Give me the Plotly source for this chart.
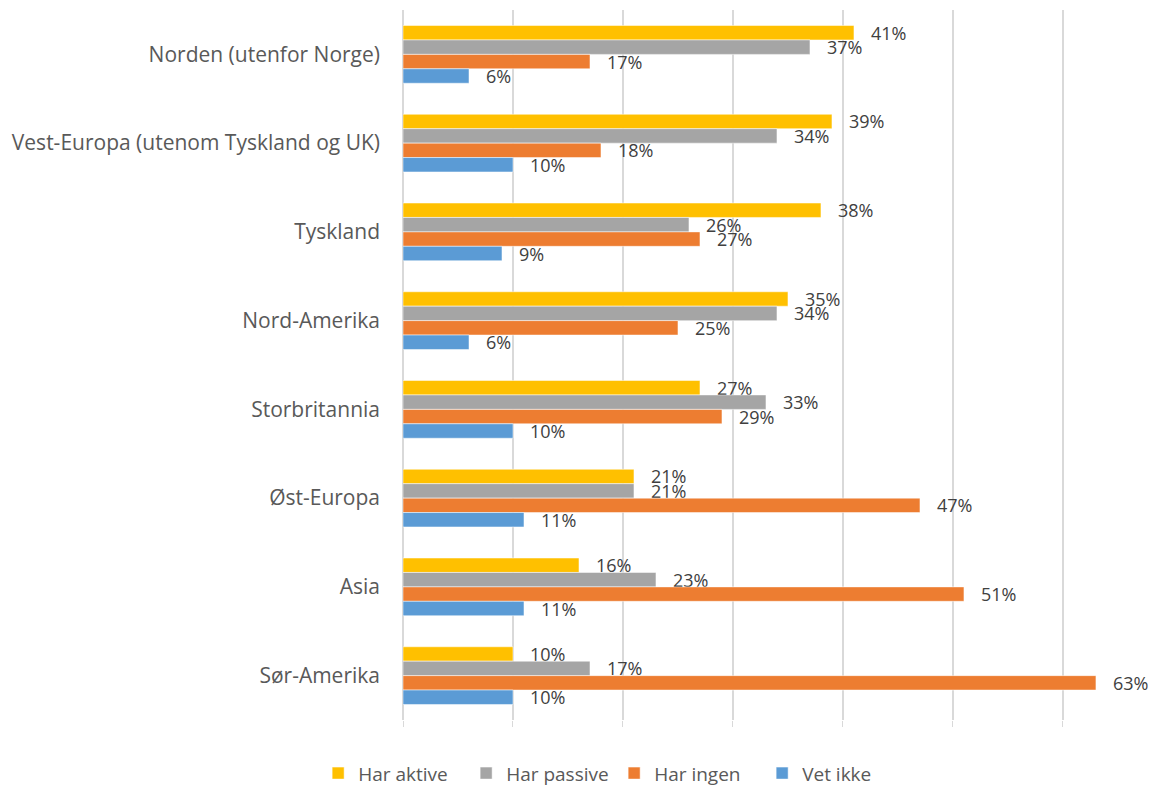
import plotly.graph_objects as go

categories = ["Norden (utenfor Norge)", "Vest-Europa (utenom Tyskland og UK)", "Tyskland",
              "Nord-Amerika", "Storbritannia", "Øst-Europa", "Asia", "Sør-Amerika"]
series_names = ["Har aktive", "Har passive", "Har ingen", "Vet ikke"]
har_aktive = [0.41, 0.39, 0.38, 0.35, 0.27, 0.21, 0.16, 0.10]
har_passive = [0.37, 0.34, 0.26, 0.34, 0.33, 0.21, 0.23, 0.17]
har_ingen = [0.17, 0.18, 0.27, 0.25, 0.29, 0.47, 0.51, 0.63]
vet_ikke = [0.06, 0.10, 0.09, 0.06, 0.10, 0.11, 0.11, 0.10]
colors = ["#FFC000", "#A5A5A5", "#ED7D31", "#5B9BD5"]

FONT = "Open Sans"
fig = go.Figure()
for name, vals, col in zip(series_names, [har_aktive, har_passive, har_ingen, vet_ikke], colors):
    fig.add_trace(go.Bar(
        y=categories, x=vals, name=name, orientation="h",
        marker=dict(color=col, line=dict(color="white", width=0.5)),
        text=["   " + f"{v*100:.0f}%" for v in vals],
        textposition="outside", cliponaxis=False, constraintext="none",
        textfont=dict(family=FONT, size=18, color="#404040"),
    ))

fig.update_layout(
    width=1168, height=787,
    margin=dict(l=395, r=8, t=2, b=75, autoexpand=False),
    paper_bgcolor="white", plot_bgcolor="white",
    barmode="group", bargap=0.35, bargroupgap=0,
    font=dict(family=FONT, size=19, color="#595959"),
    showlegend=True,
    legend=dict(orientation="h", x=0.276, xanchor="center",
                y=-0.075, yanchor="middle",
                font=dict(family=FONT, size=19, color="#595959"),
                itemwidth=30, tracegroupgap=0,
                entrywidth=103, entrywidthmode="pixels"),
    xaxis=dict(range=[0, 0.6955], showticklabels=False, showgrid=True,
               gridcolor="#D9D9D9", gridwidth=1.5, zeroline=True,
               zerolinecolor="#D9D9D9", zerolinewidth=1.5, dtick=0.1,
               ticks="outside", ticklen=6, tickcolor="#D9D9D9", automargin=False),
    yaxis=dict(autorange="reversed", showgrid=False, ticks="", ticklabelstandoff=22,
               automargin=False,
               tickfont=dict(family=FONT, size=21, color="#595959")),
)
fig.write_html("out.html")
